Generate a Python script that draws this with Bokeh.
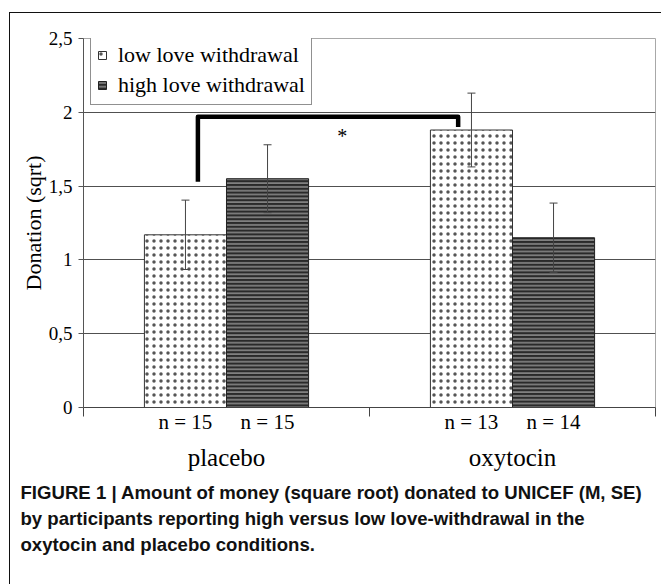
from bokeh.plotting import figure
from bokeh.models import (Range1d, FixedTicker, Legend, LegendItem, Label,
                          Whisker, TeeHead, ColumnDataSource, LinearAxis, Title)
from bokeh.embed import file_html
from bokeh.resources import INLINE

# ---------------- data ----------------
conditions = ["placebo", "oxytocin"]
cond_pos = [0.5, 1.5]
groups = ["low love withdrawal", "high love withdrawal"]
low_mean = [1.17, 1.88]
low_se = [0.235, 0.25]
high_mean = [1.55, 1.15]
high_se = [0.23, 0.235]
low_n = [15, 13]
high_n = [15, 14]
y_ticks = [0, 0.5, 1, 1.5, 2, 2.5]
y_tick_labels = ["0", "0,5", "1", "1,5", "2", "2,5"]
x_ticks = [0, 1, 2]
bracket_x = [0.40, 0.40, 1.31, 1.31]
bracket_y = [1.53, 1.97, 1.97, 1.90]
star_x, star_y = 0.905, 1.84
caption_lines = [
    "FIGURE 1 | Amount of money (square root) donated to UNICEF (M, SE)",
    "by participants reporting high versus low love-withdrawal in the",
    "oxytocin and placebo conditions.",
]

BAR_W = 0.287
DODGE = 0.1435
SERIF = "Liberation Serif"
SANS = "Liberation Sans"

low_x = [c - DODGE for c in cond_pos]
high_x = [c + DODGE for c in cond_pos]

p = figure(width=652, height=572, output_backend="svg", toolbar_location=None,
           x_range=Range1d(0, 2), y_range=Range1d(0, 2.5),
           min_border_left=73, min_border_right=7, min_border_top=25,
           min_border_bottom=178)
p.styles = {"margin-left": "9px", "margin-top": "12px",
            "border-top": "1px solid #111", "border-left": "1px solid #111"}
p.background_fill_color = "white"
p.border_fill_color = "white"
p.outline_line_color = "#a8a8a8"
p.outline_line_width = 1

# grid
p.xgrid.visible = False
p.ygrid.ticker = FixedTicker(ticks=y_ticks)
p.ygrid.grid_line_color = "#505050"
p.ygrid.grid_line_width = 1

# y axis
yax = p.yaxis[0]
yax.ticker = FixedTicker(ticks=y_ticks)
yax.major_label_overrides = {t: l for t, l in zip(y_ticks, y_tick_labels)}
yax.major_label_text_font = SERIF
yax.major_label_text_font_size = "19px"
yax.major_label_text_color = "black"
yax.major_label_standoff = 6
yax.major_tick_out = 5
yax.major_tick_in = 0
yax.minor_tick_line_color = None
yax.axis_line_color = "#555555"
yax.major_tick_line_color = "#555555"
yax.axis_label = "Donation (sqrt)"
yax.axis_label_text_font = SERIF
yax.axis_label_text_font_size = "22px"
yax.axis_label_text_font_style = "normal"
yax.axis_label_text_color = "black"
yax.axis_label_standoff = 0

# x axis: ticks only at group boundaries
xax = p.xaxis[0]
xax.ticker = FixedTicker(ticks=x_ticks)
xax.major_label_overrides = {t: "" for t in x_ticks}
xax.major_label_text_font_size = "0px"
xax.major_label_standoff = 0
xax.major_tick_out = 9
xax.major_tick_in = 0
xax.minor_tick_line_color = None
xax.axis_line_color = "#444444"
xax.major_tick_line_color = "#444444"

# x axis: group sizes under each bar
bar_pos = low_x + high_x
bar_n = low_n + high_n
n_axis = LinearAxis(ticker=FixedTicker(ticks=bar_pos),
                    major_label_overrides={x: f"n = {n}" for x, n in zip(bar_pos, bar_n)})
n_axis.axis_line_color = None
n_axis.major_tick_line_color = None
n_axis.minor_tick_line_color = None
n_axis.major_tick_out = 0
n_axis.major_tick_in = 0
n_axis.major_label_standoff = -7
n_axis.major_label_text_font = SERIF
n_axis.major_label_text_font_size = "21px"
n_axis.major_label_text_color = "black"
p.add_layout(n_axis, "below")

# x axis: condition names
c_axis = LinearAxis(ticker=FixedTicker(ticks=cond_pos),
                    major_label_overrides={x: c for x, c in zip(cond_pos, conditions)})
c_axis.axis_line_color = None
c_axis.major_tick_line_color = None
c_axis.minor_tick_line_color = None
c_axis.major_tick_out = 0
c_axis.major_tick_in = 0
c_axis.major_label_standoff = 7
c_axis.major_label_text_font = SERIF
c_axis.major_label_text_font_size = "25px"
c_axis.major_label_text_color = "black"
p.add_layout(c_axis, "below")

# bars
low_src = ColumnDataSource(dict(x=low_x, top=low_mean,
                                upper=[m + s for m, s in zip(low_mean, low_se)],
                                lower=[m - s for m, s in zip(low_mean, low_se)]))
high_src = ColumnDataSource(dict(x=high_x, top=high_mean,
                                 upper=[m + s for m, s in zip(high_mean, high_se)],
                                 lower=[m - s for m, s in zip(high_mean, high_se)]))

r_low = p.vbar(x="x", top="top", width=BAR_W, source=low_src,
               fill_color="white", line_color="#333333", line_width=1,
               hatch_pattern="dot", hatch_color="#555555", hatch_scale=7,
               hatch_weight=0.5)
r_high = p.vbar(x="x", top="top", width=BAR_W, source=high_src,
                fill_color="#2a2a2a", line_color="#222222", line_width=1,
                hatch_pattern="horizontal_line", hatch_color="#a8a8a8",
                hatch_scale=3.8, hatch_weight=1.2)

for src in (low_src, high_src):
    w = Whisker(base="x", upper="upper", lower="lower", source=src,
                line_color="#444444", line_width=1,
                upper_head=TeeHead(size=8, line_color="#444444", line_width=1),
                lower_head=TeeHead(size=8, line_color="#444444", line_width=1))
    w.level = "overlay"
    p.add_layout(w)

# significance bracket
p.line(bracket_x, bracket_y, line_width=4.5, line_color="black",
       line_join="round", line_cap="butt")
p.add_layout(Label(x=star_x, y=star_y, text="*", text_align="center",
                   text_baseline="middle", text_font=SERIF,
                   text_font_size="20px", text_color="black"))

# legend
legend = Legend(items=[LegendItem(label=groups[0], renderers=[r_low]),
                       LegendItem(label=groups[1], renderers=[r_high])],
                location=(7, 302))
legend.label_text_font = SERIF
legend.label_text_font_size = "22px"
legend.label_text_color = "black"
legend.label_height = 26
legend.label_standoff = 11
legend.glyph_width = 10
legend.glyph_height = 10
legend.spacing = 4
legend.padding = 6
legend.margin = 0
legend.border_line_color = "#222222"
legend.border_line_width = 1
legend.background_fill_color = "white"
legend.background_fill_alpha = 1
p.add_layout(legend)

# caption (one multi-line title below the plot)
caption = Title(text="\n".join(caption_lines), align="left", offset=-63,
                standoff=14, text_font=SANS, text_font_size="18.6px",
                text_font_style="bold", text_color="#111111",
                text_line_height=1.24)
p.add_layout(caption, "below")

open("out.html", "w").write(file_html(p, INLINE))
